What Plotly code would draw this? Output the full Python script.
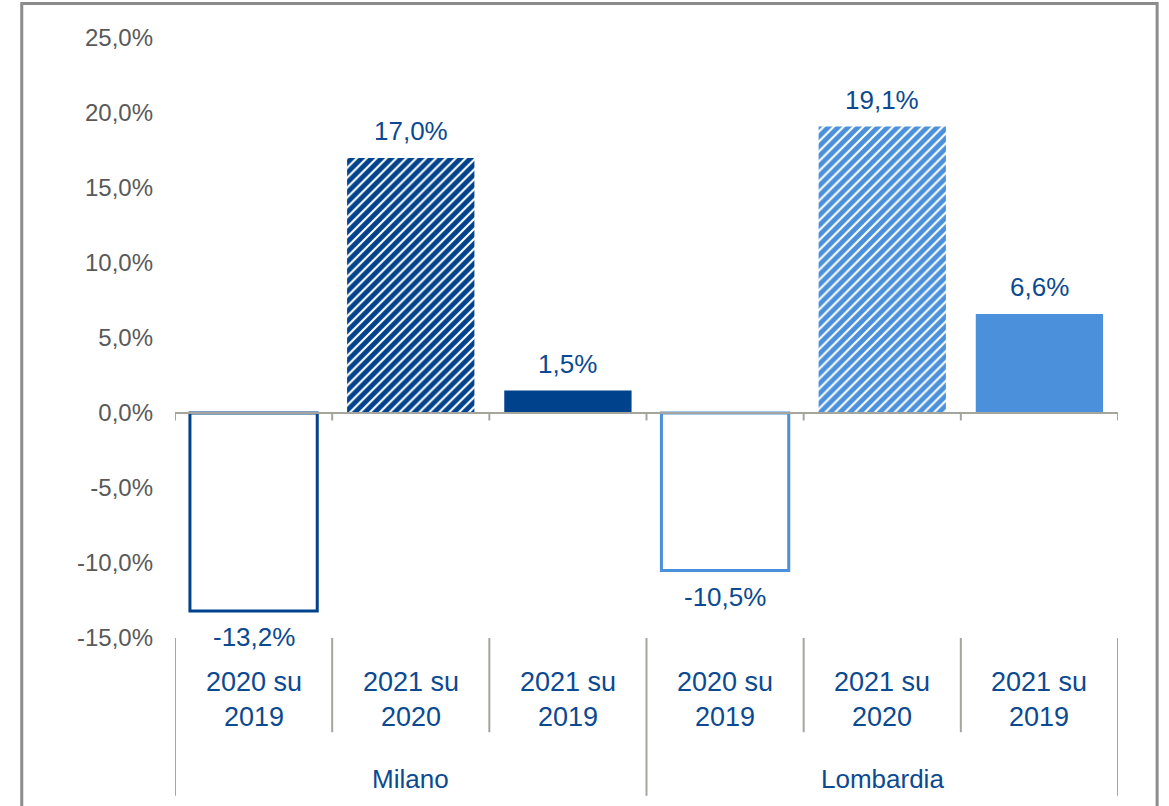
import plotly.graph_objects as go

# ---- data ----
groups = ["Milano", "Lombardia"]
periods = ["2020 su<br>2019", "2021 su<br>2020", "2021 su<br>2019"]
values = [-13.2, 17.0, 1.5, -10.5, 19.1, 6.6]
y_ticks = [-15, -10, -5, 0, 5, 10, 15, 20, 25]

DARK = "#00428B"
LIGHT = "#4A90DA"
TEXT = "#0B4A91"
GREY = "#A5A59E"
FONT = "Liberation Sans, Arial, sans-serif"

n_per = len(periods)
xs = list(range(len(values)))
group_col = [DARK] * n_per + [LIGHT] * n_per
kind = ["hollow", "pattern", "solid"] * len(groups)

fig = go.Figure()
for x, v, k, c in zip(xs, values, kind, group_col):
    if k == "hollow":
        marker = dict(color="white", line=dict(color=c, width=3))
    elif k == "pattern":
        marker = dict(color=c, line=dict(width=0),
                      pattern=dict(shape="/", fgcolor=c, bgcolor="white",
                                   fgopacity=1, size=7, solidity=0.7))
    else:
        marker = dict(color=c, line=dict(width=0))
    fig.add_trace(go.Bar(x=[x], y=[v], width=0.81, marker=marker, hoverinfo="skip"))

annotations = []
# data labels
for x, v in zip(xs, values):
    annotations.append(dict(
        x=x, y=v, xref="x", yref="y",
        text=f"{v:.1f}%".replace(".", ","),
        showarrow=False,
        yanchor="bottom" if v >= 0 else "top",
        yshift=10 if v >= 0 else -9,
        font=dict(family=FONT, size=26, color=TEXT),
    ))
# category labels
for i, x in enumerate(xs):
    annotations.append(dict(
        x=x, y=-0.103, xref="x", yref="paper",
        text=periods[i % n_per], showarrow=False, yanchor="middle",
        font=dict(family=FONT, size=27, color=TEXT),
    ))
# group labels
for g, name in enumerate(groups):
    annotations.append(dict(
        x=g * n_per + (n_per - 1) / 2, y=-0.235, xref="x", yref="paper",
        text=name, showarrow=False, yanchor="middle",
        font=dict(family=FONT, size=26, color=TEXT),
    ))

shapes = []
# zero axis line
shapes.append(dict(type="line", xref="x", yref="y", x0=-0.5, x1=len(values) - 0.5,
                   y0=0, y1=0, line=dict(color=GREY, width=2), layer="above"))
for b in range(len(values) + 1):
    xb = b - 0.5
    shapes.append(dict(type="line", xref="x", yref="y", x0=xb, x1=xb, y0=0, y1=-0.5,
                       line=dict(color=GREY, width=2), layer="below"))
    is_group = (b % n_per == 0)
    shapes.append(dict(type="line", xref="x", yref="paper", x0=xb, x1=xb,
                       y0=0, y1=-0.263 if is_group else -0.157,
                       line=dict(color=GREY, width=2)))
# outer border
shapes.append(dict(type="rect", xref="paper", yref="paper",
                   x0=-0.1625, x1=1.0415, y0=-0.4, y1=1.0575,
                   line=dict(color="#8C8C8C", width=3), fillcolor="rgba(0,0,0,0)"))

fig.update_layout(
    width=1169, height=806,
    margin=dict(l=175, r=51, t=38, b=168),
    paper_bgcolor="white", plot_bgcolor="white",
    showlegend=False,
    barmode="overlay",
    font=dict(family=FONT),
    xaxis=dict(range=[-0.5, len(values) - 0.5], showticklabels=False, showgrid=False,
               zeroline=False, showline=False, ticks="", fixedrange=True),
    yaxis=dict(range=[-15, 25], tickvals=y_ticks,
               ticktext=[f"{t:.1f}%".replace(".", ",") for t in y_ticks],
               showgrid=False, zeroline=False, showline=False, ticks="",
               ticklabelstandoff=21, fixedrange=True,
               tickfont=dict(family=FONT, size=24, color="#595959")),
    annotations=annotations,
    shapes=shapes,
)

fig.write_html("out.html", config={"displayModeBar": False},
               post_script="document.body.style.margin='0';")
